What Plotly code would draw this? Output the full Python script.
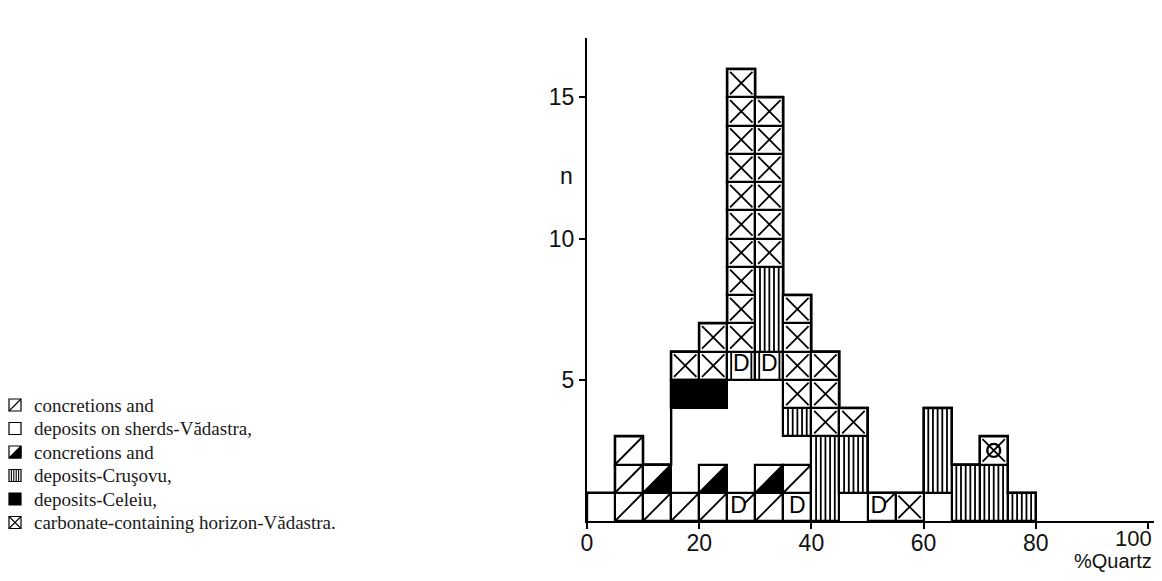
import plotly.graph_objects as go

# ---------------- data ----------------
bin_start = [0, 5, 10, 15, 20, 25, 30, 35, 40, 45, 50, 55, 60, 65, 70, 75]
bin_width = 5
# stacks from bottom to top; codes:
# W white, S diagonal, H half-black, V vertical lines, B black, X cross,
# D letter D, DS letter D with diagonal, DV letter D with vertical lines, XD cross with ring
stacks = [
    ["W"],
    ["S", "S", "S"],
    ["S", "H"],
    ["S", "W", "W", "W", "B", "X"],
    ["S", "H", "W", "W", "B", "X", "X"],
    ["DS", "W", "W", "W", "W", "DV", "X", "X", "X", "X", "X", "X", "X", "X", "X", "X"],
    ["S", "H", "W", "W", "W", "DV", "V", "V", "V", "X", "X", "X", "X", "X", "X"],
    ["D", "S", "W", "V", "X", "X", "X", "X"],
    ["V", "V", "V", "X", "X", "X"],
    ["W", "V", "V", "X"],
    ["DS"],
    ["X"],
    ["W", "V", "V", "V"],
    ["V", "V"],
    ["V", "V", "XD"],
    ["V"],
]
x_ticks = [0, 20, 40, 60, 80, 100]
x_tick_text = ["0", "20", "40", "60", "80", "100"]
y_ticks = [5, 10, 15]
x_title = "%Quartz"
y_title = "n"
legend_codes = ["S", "W", "H", "V", "B", "X"]
legend_labels = [
    "concretions and",
    "deposits on sherds-Vădastra,",
    "concretions and",
    "deposits-Cruşovu,",
    "deposits-Celeiu,",
    "carbonate-containing horizon-Vădastra.",
]

# ---------------- layout geometry (reference pixel coords; page body has 8px margin) ----------------
OFF = 8
W_PX, H_PX = 1162 - 2 * OFF, 581 - 2 * OFF
L = 587 - OFF
T = 38 - OFF
PLOT_BOTTOM = 521 - OFF
B = H_PX - PLOT_BOTTOM
R = 0
PW = W_PX - L - R
PH = H_PX - T - B
x_range = [0, PW / 5.61]
y_range = [0, PH / 28.25]

def px(xp):  # reference x pixel -> paper
    return (xp - OFF - L) / PW

def py(yp):  # reference y pixel -> paper
    return (PLOT_BOTTOM - (yp - OFF)) / PH

# ---------------- boxes ----------------
boxes = []  # (x0, x1, y0, y1, code)
for xs, stack in zip(bin_start, stacks):
    i = 0
    while i < len(stack):
        c = stack[i]
        j = i + 1
        if c in ("W", "V", "B"):
            while j < len(stack) and stack[j] == c:
                j += 1
        boxes.append((xs, xs + bin_width, i, j, c))
        i = j

fig = go.Figure()

def add_bars(sel, fill, lcol, lw):
    if not sel:
        return
    fig.add_trace(go.Bar(
        x=[(b[0] + b[1]) / 2 for b in sel],
        y=[b[3] - b[2] for b in sel],
        base=[b[2] for b in sel],
        width=[b[1] - b[0] for b in sel],
        marker=dict(color=fill, line=dict(color=lcol, width=lw)),
        hoverinfo="skip", showlegend=False,
    ))

add_bars([b for b in boxes if b[4] == "W"], "white", "white", 0)
add_bars([b for b in boxes if b[4] not in ("W", "B")], "white", "black", 2.2)
add_bars([b for b in boxes if b[4] == "B"], "black", "black", 2.2)

# hatching
hx, hy = [], []
tx, ty = [], []
fx, fy = [], []
rx, ry = [], []
def seg(a, b):
    hx.extend([a[0], b[0], None]); hy.extend([a[1], b[1], None])

for x0, x1, y0, y1, c in boxes:
    w, h = x1 - x0, y1 - y0
    if c == "S":
        seg((x0, y0), (x1, y1))
    elif c == "H":
        seg((x0, y0), (x1, y1))
        fx.extend([x0, x1, x1, x0, None]); fy.extend([y0, y0, y1, y0, None])
    elif c in ("X", "XD"):
        e = 0.1
        seg((x0 + e * w, y0 + e * h), (x1 - e * w, y1 - e * h))
        seg((x0 + e * w, y1 - e * h), (x1 - e * w, y0 + e * h))
        if c == "XD":
            rx.append((x0 + x1) / 2); ry.append((y0 + y1) / 2)
    elif c == "V":
        n = 6
        for k in range(1, n):
            xx = x0 + w * k / n
            seg((xx, y0), (xx, y1))
    elif c == "DV":
        seg((x0 + 0.14 * w, y0), (x0 + 0.14 * w, y1))
        seg((x1 - 0.14 * w, y0), (x1 - 0.14 * w, y1))
        tx.append((x0 + x1) / 2); ty.append((y0 + y1) / 2)
    elif c == "D":
        tx.append((x0 + x1) / 2); ty.append((y0 + y1) / 2)
    elif c == "DS":
        seg((x0 + 0.62 * w, y0 + 0.62 * h), (x1, y1))
        tx.append(x0 + 0.4 * w); ty.append((y0 + y1) / 2)

fig.add_trace(go.Scatter(x=fx, y=fy, mode="lines", fill="toself", fillcolor="black",
                         line=dict(color="black", width=1), hoverinfo="skip", showlegend=False))
fig.add_trace(go.Scatter(x=hx, y=hy, mode="lines", line=dict(color="black", width=1.8),
                         hoverinfo="skip", showlegend=False))
fig.add_trace(go.Scatter(x=rx, y=ry, mode="markers",
                         marker=dict(symbol="circle-open", size=13, color="black", line=dict(width=2.4)),
                         hoverinfo="skip", showlegend=False))
fig.add_trace(go.Scatter(x=tx, y=ty, mode="text", text=["D"] * len(tx),
                         textfont=dict(family="Liberation Sans Narrow, Liberation Sans", size=23, color="black"),
                         hoverinfo="skip", showlegend=False))

# envelope
ex, ey = [bin_start[0]], [0]
for xs, stack in zip(bin_start, stacks):
    ex.extend([xs, xs + bin_width]); ey.extend([len(stack), len(stack)])
ex.append(bin_start[-1] + bin_width); ey.append(0)
fig.add_trace(go.Scatter(x=ex, y=ey, mode="lines", line=dict(color="black", width=2.4),
                         hoverinfo="skip", showlegend=False))

# ---------------- legend (custom glyphs) ----------------
shapes = []
annotations = []
sym_x0, sym_x1 = 9, 21
row_y = [405, 428.5, 452, 475.5, 499, 522.5]
for code, label, yc in zip(legend_codes, legend_labels, row_y):
    a, b_ = sym_x0, sym_x1
    top, bot = yc - 6, yc + 6
    fill = "black" if code == "B" else "white"
    shapes.append(dict(type="rect", xref="paper", yref="paper",
                       x0=px(a), x1=px(b_), y0=py(bot), y1=py(top),
                       line=dict(color="black", width=1.2), fillcolor=fill))
    def lseg(p, q):
        shapes.append(dict(type="line", xref="paper", yref="paper",
                           x0=px(p[0]), y0=py(p[1]), x1=px(q[0]), y1=py(q[1]),
                           line=dict(color="black", width=1.1)))
    if code in ("S", "H", "X"):
        lseg((a, bot), (b_, top))
    if code == "X":
        lseg((a, top), (b_, bot))
    if code == "H":
        shapes.append(dict(type="path", xref="paper", yref="paper",
                           path=f"M{px(a)},{py(bot)} L{px(b_)},{py(bot)} L{px(b_)},{py(top)} Z",
                           fillcolor="black", line=dict(color="black", width=1)))
    if code == "V":
        for k in range(1, 5):
            xx = a + (b_ - a) * k / 5
            lseg((xx, top), (xx, bot))
    annotations.append(dict(text=label, xref="paper", yref="paper", x=px(32), y=py(yc),
                            xanchor="left", yanchor="middle", showarrow=False,
                            font=dict(family="Liberation Serif, DejaVu Serif", size=19, color="#1a1a1a")))

sans = "Liberation Sans Narrow, Liberation Sans"
# last x tick label placed as annotation so it stays inside the page
annotations.append(dict(text=x_tick_text[-1], xref="paper", yref="paper", x=1.0, y=py(538),
                        xanchor="right", yanchor="middle", showarrow=False,
                        font=dict(family=sans, size=22, color="#111")))
annotations.append(dict(text=x_title, xref="paper", yref="paper", x=1.0, y=py(561),
                        xanchor="right", yanchor="middle", showarrow=False,
                        font=dict(family=sans, size=20, color="#111")))
annotations.append(dict(text=y_title, xref="paper", yref="y", x=px(566), y=12.2,
                        xanchor="center", yanchor="middle", showarrow=False,
                        font=dict(family=sans, size=23, color="#111")))

tickfont = dict(family=sans, size=23, color="#111")
fig.update_layout(
    width=W_PX, height=H_PX,
    margin=dict(l=L, r=R, t=T, b=B, pad=0, autoexpand=False),
    paper_bgcolor="white", plot_bgcolor="white",
    barmode="overlay", bargap=0,
    showlegend=False,
    shapes=shapes, annotations=annotations,
    xaxis=dict(range=x_range, tickvals=x_ticks, ticktext=x_tick_text[:-1] + [""],
               ticks="outside", ticklen=6, tickwidth=1.5, ticklabelstandoff=-6,
               tickcolor="black", showline=True, linecolor="black", linewidth=2,
               showgrid=False, zeroline=False, tickfont=tickfont, fixedrange=True, automargin=False),
    yaxis=dict(range=y_range, tickvals=y_ticks, ticks="outside", ticklen=6, tickwidth=1.5,
               tickcolor="black", showline=True, linecolor="black", linewidth=2,
               showgrid=False, zeroline=False, tickfont=tickfont, fixedrange=True, automargin=False),
)

fig.write_html("out.html")
